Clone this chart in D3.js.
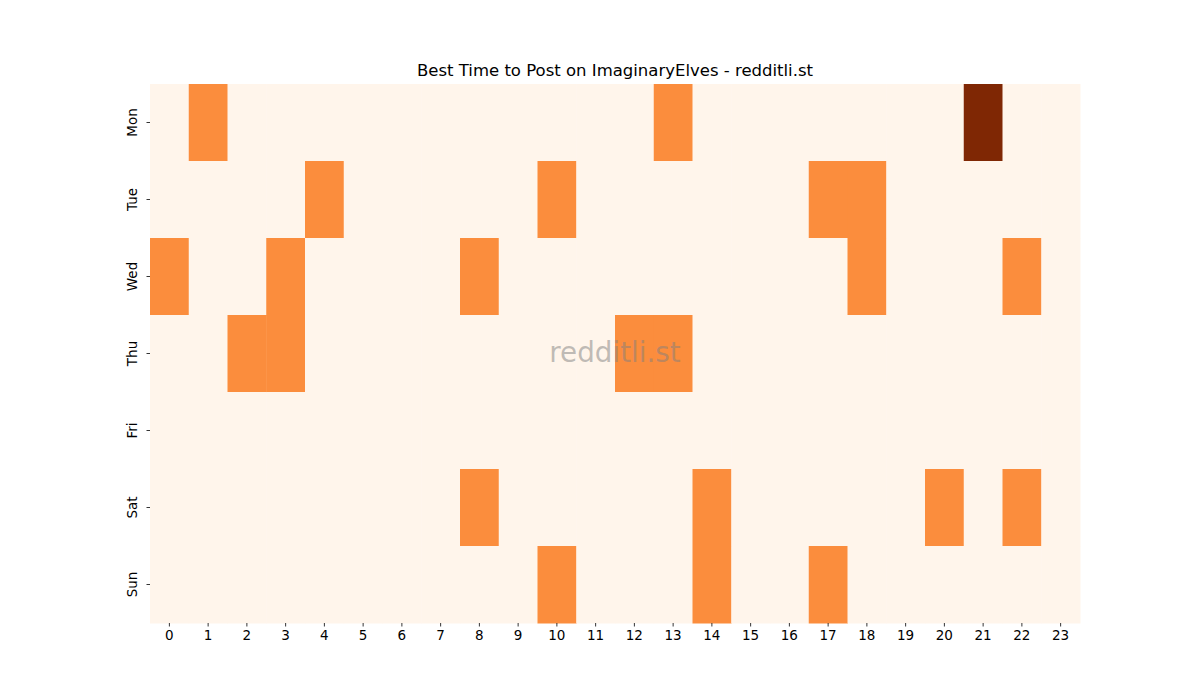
<!DOCTYPE html>
<html>
<head>
<meta charset="utf-8">
<script src="https://cdn.jsdelivr.net/npm/d3@7"></script>
<style>
  body { margin: 0; background: #fff; }
  svg { font-family: "DejaVu Sans", sans-serif; }
</style>
</head>
<body>
<div id="chart"></div>
<script>
// chart data
const days = ["Mon", "Tue", "Wed", "Thu", "Fri", "Sat", "Sun"];
const hours = d3.range(24);
// activity per day, one value per hour (0-23)
const mon = [0,1,0,0,0,0,0,0,0,0,0,0,0,1,0,0,0,0,0,0,0,2,0,0];
const tue = [0,0,0,0,1,0,0,0,0,0,1,0,0,0,0,0,0,1,1,0,0,0,0,0];
const wed = [1,0,0,1,0,0,0,0,1,0,0,0,0,0,0,0,0,0,1,0,0,0,1,0];
const thu = [0,0,1,1,0,0,0,0,0,0,0,0,1,1,0,0,0,0,0,0,0,0,0,0];
const fri = [0,0,0,0,0,0,0,0,0,0,0,0,0,0,0,0,0,0,0,0,0,0,0,0];
const sat = [0,0,0,0,0,0,0,0,1,0,0,0,0,0,1,0,0,0,0,0,1,0,1,0];
const sun = [0,0,0,0,0,0,0,0,0,0,1,0,0,0,1,0,0,1,0,0,0,0,0,0];
const rows = [mon, tue, wed, thu, fri, sat, sun];

const width = 1200, height = 700;
const margin = {top: 84, right: 120, bottom: 77, left: 150};

const svg = d3.select("#chart")
    .append("svg")
    .attr("width", width)
    .attr("height", height);

const g = svg.append("g")
    .attr("transform", `translate(${margin.left}, ${margin.top})`);

const innerW = width - margin.left - margin.right,
      innerH = height - margin.top - margin.bottom;

// band scales for the grid
const x = d3.scaleBand().domain(hours).range([0, innerW]);
const y = d3.scaleBand().domain(days).range([0, innerH]);

// Oranges colour map
const vmax = d3.max(rows, r => d3.max(r));
const color = d3.scaleSequential(d3.interpolateOranges).domain([0, vmax]);

const cells = [];
rows.forEach((r, i) => r.forEach((v, h) => cells.push({day: days[i], hour: h, value: v})));

g.selectAll("rect")
    .data(cells)
    .enter()
    .append("rect")
    .attr("x", d => x(d.hour))
    .attr("y", d => y(d.day))
    .attr("width", x.bandwidth() + 0.5)
    .attr("height", y.bandwidth() + 0.5)
    .attr("fill", d => color(d.value));

// axes
const xAxis = g.append("g")
    .attr("transform", `translate(0, ${innerH})`)
    .call(d3.axisBottom(x).tickSize(3.5).tickPadding(3.5));
const yAxis = g.append("g")
    .call(d3.axisLeft(y).tickSize(3.5).tickPadding(3.5));

[xAxis, yAxis].forEach(a => {
    a.select(".domain").remove();
    a.selectAll("line").attr("stroke", "#000").attr("stroke-width", 0.8);
    a.selectAll("text").attr("fill", "#000").style("font-size", "13.5px").style("font-family", "DejaVu Sans");
});

yAxis.selectAll("text")
    .attr("transform", "rotate(-90)")
    .attr("x", 0)
    .attr("y", -18)
    .attr("dy", "0.35em")
    .style("text-anchor", "middle");

// title
svg.append("text")
    .attr("x", margin.left + innerW / 2)
    .attr("y", 76)
    .style("text-anchor", "middle")
    .style("font-size", "16.5px")
    .text("Best Time to Post on ImaginaryElves - redditli.st");

// watermark
svg.append("text")
    .attr("x", margin.left + innerW / 2)
    .attr("y", margin.top + innerH / 2)
    .attr("dy", "0.3em")
    .style("text-anchor", "middle")
    .style("font-size", "27.8px")
    .attr("fill", "#808080")
    .attr("fill-opacity", 0.5)
    .text("redditli.st");
</script>
</body>
</html>
